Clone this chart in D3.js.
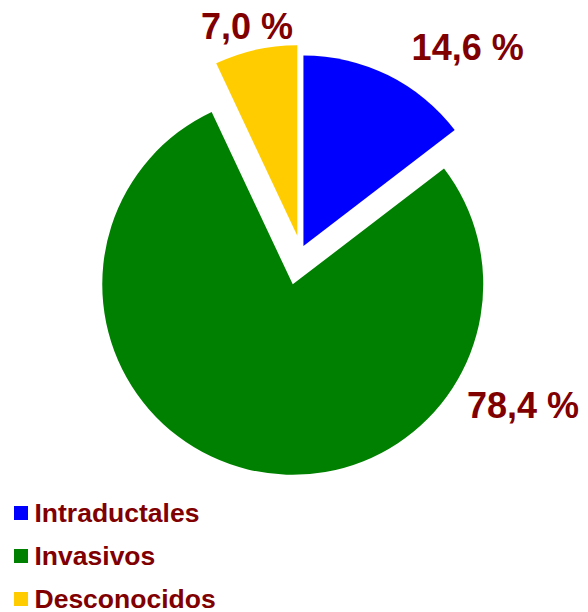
<!DOCTYPE html>
<html lang="es">
<head>
    <meta charset="UTF-8">
    <script src="https://cdn.jsdelivr.net/npm/d3@7"></script>
    <title>Tipos de tumor</title>
    <style>
        html, body {
            margin: 0px;
            padding: 0px;
            background-color: #ffffff;
            font-family: "Liberation Sans", Arial, sans-serif;
        }
    </style>
</head>
<body>
    <div id="chart"></div>
    <script>
        // data
        let categories = ['Intraductales', 'Invasivos', 'Desconocidos'];
        let values = [14.6, 78.4, 7.0];
        let labels = ['14,6 %', '78,4 %', '7,0 %'];
        let colours = ['#0000ff', '#008000', '#ffcc00'];

        // layout
        let width = 588, height = 612;
        let centre = [300.8, 251.3];
        let radius = 190.5;
        let explode = [6, 34, 16];           // how far each slice is pulled out
        let label_pos = [                     // [angle in degrees, distance] from centre
            [39.2, 264], [124.6, 270], [-13.4, 232]
        ];
        let text_colour = '#800000';

        let svg = d3.select('#chart').append('svg')
            .attr('width', width)
            .attr('height', height);

        let pie = d3.pie().sort(null).value(d => d);
        let arc = d3.arc().innerRadius(0).outerRadius(radius);
        let slices = pie(values);

        let g = svg.append('g')
            .attr('transform', `translate(${centre[0]},${centre[1]})`);

        g.selectAll('path')
            .data(slices)
            .join('path')
            .attr('d', arc)
            .attr('fill', (d, i) => colours[i])
            .attr('transform', (d, i) => {
                let mid = (d.startAngle + d.endAngle) / 2;
                return `translate(${explode[i] * Math.sin(mid)},${-explode[i] * Math.cos(mid)})`;
            });

        g.selectAll('text')
            .data(slices)
            .join('text')
            .attr('x', (d, i) => label_pos[i][1] * Math.sin(label_pos[i][0] * Math.PI / 180))
            .attr('y', (d, i) => -label_pos[i][1] * Math.cos(label_pos[i][0] * Math.PI / 180))
            .attr('dy', '0.36em')
            .attr('text-anchor', 'middle')
            .attr('font-size', '36px')
            .attr('font-weight', 'bold')
            .attr('fill', text_colour)
            .text((d, i) => labels[i]);

        // legend
        let legend = svg.append('g');
        let row = d3.scaleBand().domain(categories).range([506, 635]).paddingInner(0);

        let item = legend.selectAll('g')
            .data(categories)
            .join('g')
            .attr('transform', d => `translate(14,${row(d)})`);

        item.append('rect')
            .attr('width', 14)
            .attr('height', 14)
            .attr('fill', (d, i) => colours[i]);

        item.append('text')
            .attr('x', 20.5)
            .attr('y', 16)
            .attr('font-size', '26.5px')
            .attr('font-weight', 'bold')
            .attr('fill', text_colour)
            .text(d => d);
    </script>
</body>
</html>
